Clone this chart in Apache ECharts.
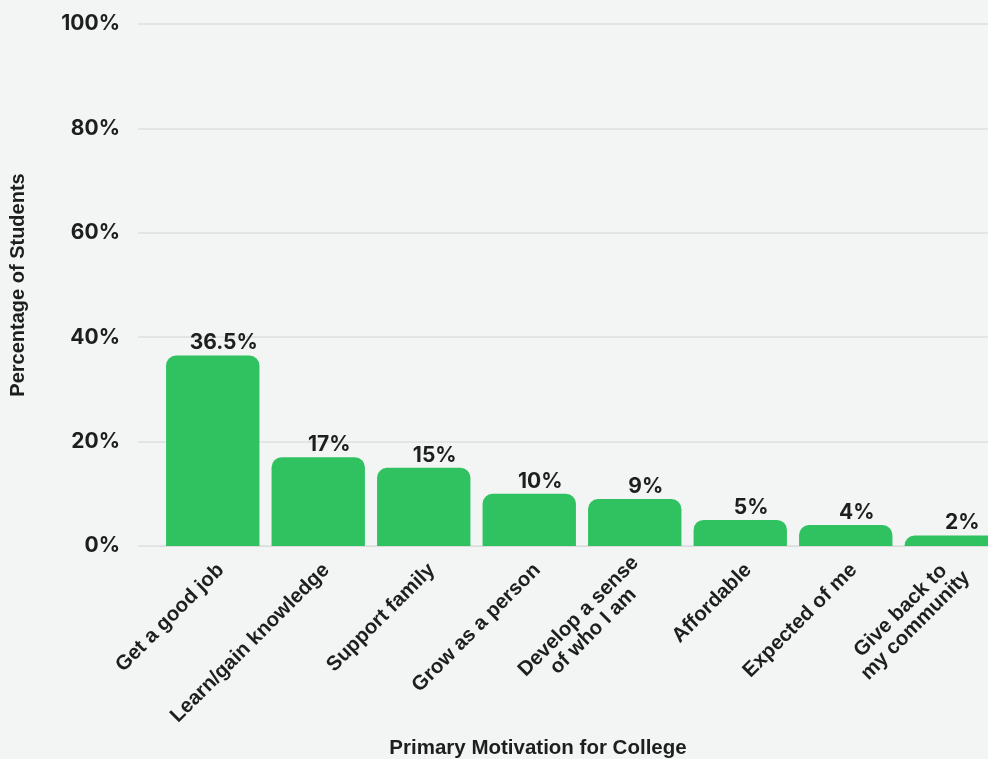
<!DOCTYPE html>
<html>
<head>
<meta charset="utf-8">
<script src="https://cdn.jsdelivr.net/npm/echarts@6/dist/echarts.min.js"></script>
<style>
  html, body { margin: 0; padding: 0; background: #f2f5f4; }
  #chart { width: 988px; height: 759px; }
</style>
</head>
<body>
<div id="chart"></div>
<script>
const categories = ['Get a good job', 'Learn/gain knowledge', 'Support family', 'Grow as a person',
  'Develop a sense\nof who I am', 'Affordable', 'Expected of me', 'Give back to\nmy community'];
const values = [36.5, 17, 15, 10, 9, 5, 4, 2];
const valueLabels = ['36.5%', '17%', '15%', '10%', '9%', '5%', '4%', '2%'];
const yTicks = [0, 20, 40, 60, 80, 100];

const myChart = echarts.init(document.getElementById('chart'));
const textColor = '#1e1e1e';

myChart.setOption({
  backgroundColor: '#f2f5f4',
  animation: false,
  grid: [
    // grid lines + y labels
    { left: 138, right: 0, top: 24, bottom: 213, outerBoundsMode: 'none' },
    // bars (runs past the right edge, like the cropped original)
    { left: 160, width: 844, top: 24, bottom: 213, outerBoundsMode: 'none' },
    // category labels, nudged right like the original
    { left: 168, width: 844, top: 24, bottom: 213, outerBoundsMode: 'none' }
  ],
  xAxis: [{
    gridIndex: 0, type: 'value', show: false, min: 0, max: 1
  }, {
    gridIndex: 1,
    type: 'category',
    data: categories,
    axisTick: { show: false },
    axisLine: { lineStyle: { color: '#d9dcdb', width: 1 } },
    axisLabel: { show: false }
  }, {
    gridIndex: 2,
    type: 'category',
    data: categories,
    axisTick: { show: false },
    axisLine: { show: false },
    axisLabel: {
      rotate: 45,
      margin: 21,
      interval: 0,
      color: textColor,
      fontFamily: 'Liberation Sans',
      fontWeight: 'bold',
      fontSize: 20.5,
      lineHeight: 21,
      // two-line labels are centred on each other in the original
      formatter: v => v.split('\n').map(s => '{c|' + s + '}').join('\n'),
      rich: {
        c: {
          align: 'center',
          color: textColor,
          fontFamily: 'Liberation Sans',
          fontWeight: 'bold',
          fontSize: 20.5,
          lineHeight: 21
        }
      }
    }
  }],
  yAxis: [{
    gridIndex: 0,
    type: 'value',
    min: yTicks[0],
    max: yTicks[yTicks.length - 1],
    interval: 20,
    axisLine: { show: false },
    axisTick: { show: false },
    splitLine: { lineStyle: { color: '#dcdfde', width: 1.5 } },
    axisLabel: {
      margin: 18,
      color: textColor,
      fontFamily: 'Inter',
      fontWeight: 'bold',
      fontSize: 21,
      formatter: '{value}%'
    }
  }, {
    gridIndex: 1, type: 'value', show: false, min: 0, max: 100
  }, {
    gridIndex: 2, type: 'value', show: false, min: 0, max: 100
  }],
  graphic: [{
    type: 'text',
    rotation: Math.PI / 2,
    x: 18, y: 285,
    style: {
      text: 'Percentage of Students',
      fill: textColor,
      font: 'bold 20px "Liberation Sans"',
      textAlign: 'center',
      textVerticalAlign: 'middle'
    }
  }, {
    type: 'text',
    x: 538, y: 748,
    style: {
      text: 'Primary Motivation for College',
      fill: textColor,
      font: 'bold 20.5px "Liberation Sans"',
      textAlign: 'center',
      textVerticalAlign: 'middle'
    }
  }],
  series: [{
    type: 'bar',
    xAxisIndex: 1,
    yAxisIndex: 1,
    data: values,
    barCategoryGap: '11.5%',
    itemStyle: { color: '#30c260', borderRadius: [10, 10, 0, 0] },
    label: {
      show: true,
      position: 'top',
      distance: 2,
      offset: [11, 0],
      color: textColor,
      fontFamily: 'Inter',
      fontWeight: 'bold',
      fontSize: 21,
      formatter: p => valueLabels[p.dataIndex]
    }
  }]
});

window.addEventListener('resize', function () {
  myChart.resize();
});
</script>
</body>
</html>
